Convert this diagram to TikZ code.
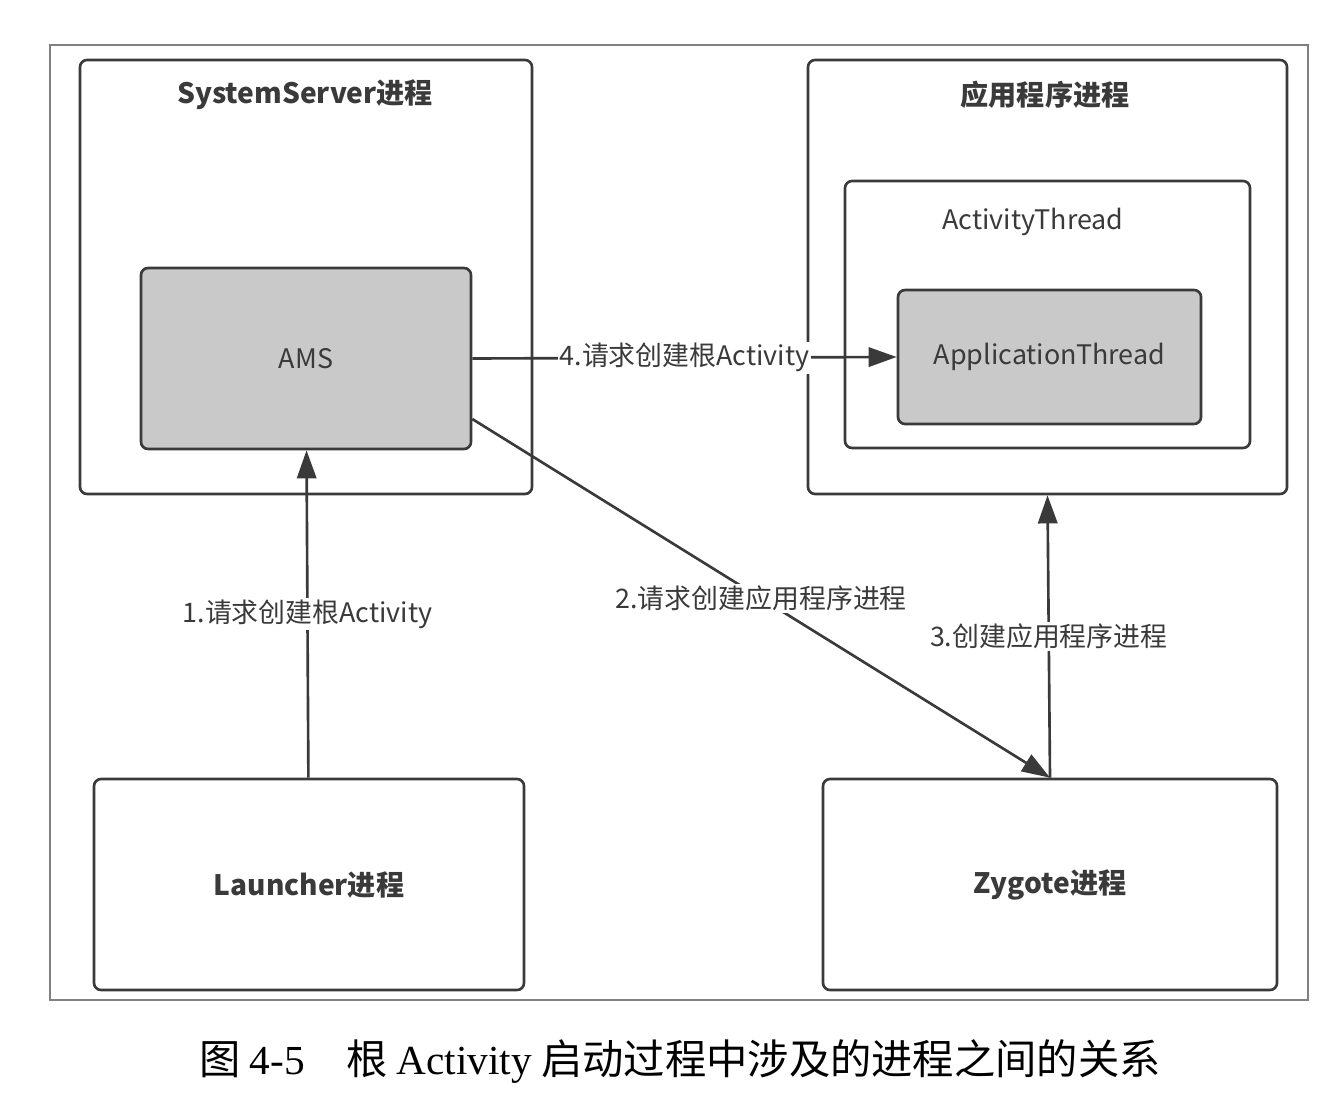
\documentclass[tikz,border=0pt]{standalone}
\usepackage{fontspec}
\setmainfont{Noto Sans CJK SC}
\newfontfamily\capserif{Liberation Serif}
\usetikzlibrary{arrows.meta}
\definecolor{linegray}{HTML}{3A3A3A}
\definecolor{boxfill}{HTML}{C9C9C9}
\begin{document}
\begin{tikzpicture}[
    procbox/.style={draw=linegray, line width=1.5pt, rounded corners=4pt},
    innerbox/.style={procbox, fill=boxfill},
    flow/.style={draw=linegray, line width=1.5pt, -{Triangle[length=16pt, width=11pt]}},
    flowlabel/.style={fill=white, inner sep=1pt, text=linegray, font=\fontsize{15.3}{17}\selectfont},
    title/.style={text=linegray, font=\fontsize{16}{18}\selectfont\bfseries}
  ]
    \useasboundingbox[fill=white] (0, 0) rectangle (26.64, -22.12);
    \draw[gray, line width=1pt] (1.0, -0.9) rectangle (26.16, -20.0);

    \node[procbox, minimum width=9.04cm, minimum height=8.68cm] (sysserver) at (6.12, -5.54) {};
    \node[title] (systitle) at (6.1, -1.9) {SystemServer进程};
    \node[innerbox, minimum width=6.6cm, minimum height=3.62cm, text=linegray, font=\fontsize{15.3}{17}\selectfont] (ams) at (6.12, -7.17) {AMS};

    \node[procbox, minimum width=9.58cm, minimum height=8.68cm] (app) at (20.95, -5.54) {};
    \node[title] (apptitle) at (20.9, -1.9) {应用程序进程};
    \node[procbox, minimum width=8.1cm, minimum height=5.34cm] (actthread) at (20.95, -6.29) {};
    \node[text=linegray, font=\fontsize{15.3}{17}\selectfont] (acttitle) at (20.66, -4.44) {ActivityThread};
    \node[innerbox, minimum width=6.06cm, minimum height=2.68cm, text=linegray, font=\fontsize{15.3}{17}\selectfont] (appthread) at (20.99, -7.14) {ApplicationThread};

    \node[procbox, minimum width=8.6cm, minimum height=4.22cm, title] (launcher) at (6.18, -17.69) {Launcher进程};
    \node[procbox, minimum width=9.08cm, minimum height=4.22cm, title] (zygote) at (21.0, -17.69) {Zygote进程};

    \draw[flow] (launcher) -- node[flowlabel] {1.请求创建根Activity} (ams);
    \draw[flow] (ams.-20) -- node[flowlabel] {2.请求创建应用程序进程} (zygote.north);
    \draw[flow] (zygote.north) -- node[flowlabel] {3.创建应用程序进程} (app.south);
    \draw[flow] (ams.east) -- node[flowlabel] {4.请求创建根Activity} (appthread.west);

    \node[font=\fontsize{23.5}{26}\selectfont] (caption) at (13.6, -21.24) {图 {\capserif 4-5}\quad 根 {\capserif Activity} 启动过程中涉及的进程之间的关系};
\end{tikzpicture}
\end{document}
